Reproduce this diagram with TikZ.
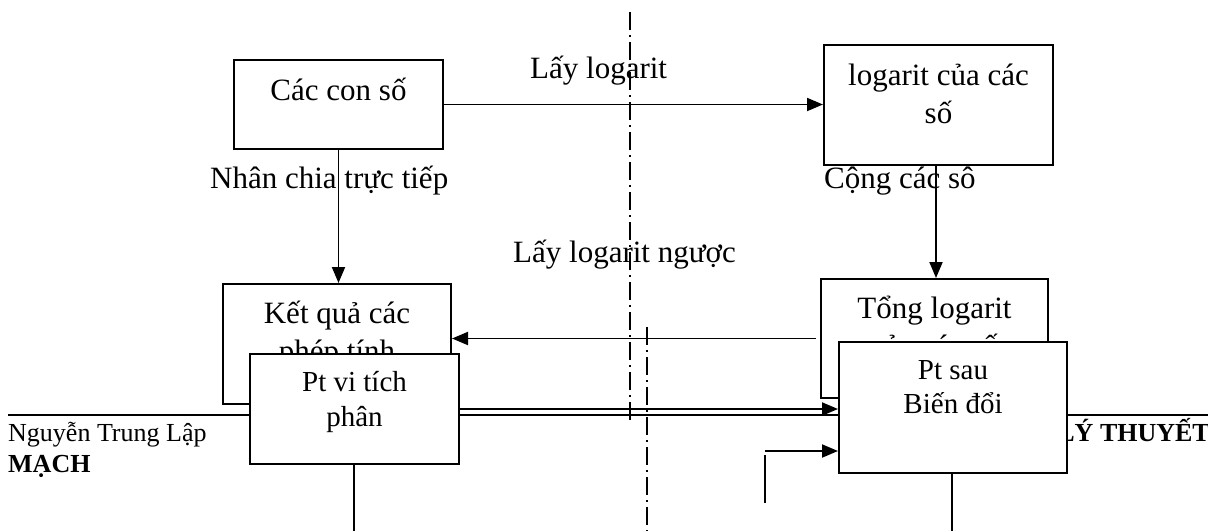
\documentclass[tikz,border=0pt]{standalone}
\usepackage{fontspec}
\setmainfont{Liberation Serif}
\usetikzlibrary{arrows.meta,calc}
\begin{document}
\begin{tikzpicture}[x=1pt,y=-1pt,
  box/.style={draw,fill=white,line width=2pt,inner sep=0pt},
  bigtxt/.style={inner sep=0pt,anchor=base,font=\fontsize{31}{38}\selectfont},
  midtxt/.style={inner sep=0pt,anchor=base,font=\fontsize{29}{34}\selectfont},
  lbl/.style={inner sep=0pt,anchor=base west,font=\fontsize{31}{38}\selectfont},
  foot/.style={inner sep=0pt,font=\fontsize{26}{30}\selectfont},
  conn/.style={line width=1.9pt},
  arr/.style={line width=1.9pt,-{Triangle[length=16pt,width=13pt]}},
  dashdot/.style={line width=1.4pt,dash pattern=on 18pt off 5pt on 1.5pt off 5.5pt}]
\useasboundingbox (0,0) rectangle (1208,531);
% page rule and footer
\coordinate (r1) at (8,415);
\coordinate (r2) at (1208,415);
\draw[line width=1.4pt] (r1) -- (r2);
\node[foot,anchor=base west] (f1) at (8,441) {Nguyễn Trung Lập};
\node[foot,anchor=base west] (f2) at (8,472) {\bfseries MẠCH};
\node[foot,anchor=base east] (f3) at (1210,441) {\bfseries LÝ THUYẾT};
% upper boxes
\node[box,minimum width=209pt,minimum height=89pt] (A) at (338.5,104.5) {};
\node[bigtxt] (At) at (338.5,100) {Các con số};
\node[box,minimum width=229pt,minimum height=120pt] (B) at (938.5,105) {};
\node[bigtxt] (Bt1) at (938.5,85) {logarit của các};
\node[bigtxt] (Bt2) at (938.5,123) {số};
% middle boxes
\node[box,minimum width=228pt,minimum height=120pt] (C) at (337,344) {};
\node[bigtxt] (Ct1) at (337,323) {Kết quả các};
\node[bigtxt] (Ct2) at (337,361) {phép tính};
\node[box,minimum width=227pt,minimum height=119pt] (E) at (934.5,338.5) {};
\node[bigtxt] (Et1) at (934.5,318) {Tổng logarit};
\node[bigtxt] (Et2) at (934.5,356) {của các số};
% lower boxes
\node[box,minimum width=209pt,minimum height=110pt] (D) at (354.5,409) {};
\node[midtxt] (Dt1) at (354.5,391) {Pt vi tích};
\node[midtxt] (Dt2) at (354.5,426) {phân};
\node[box,minimum width=228pt,minimum height=131pt] (F) at (953,407.5) {};
\node[midtxt] (Ft1) at (953,379) {Pt sau};
\node[midtxt] (Ft2) at (953,413) {Biến đổi};
% labels
\node[lbl] (L1) at (530,78) {Lấy logarit};
\node[lbl] (L2) at (210,188) {Nhân chia trực tiếp};
\node[lbl] (L3) at (824,188) {Cộng các sô};
\node[lbl] (L4) at (513,262) {Lấy logarit ngược};
% connectors
\draw[arr] (A.east) -- (A.east -| B.west);
\draw[arr] (A.south) -- (A.south |- C.north);
\draw[arr] ([xshift=-2.5pt]B.south) -- ([xshift=-2.5pt]B.south |- E.north);
\draw[arr] ([xshift=-4pt]E.west) -- (E.west -| C.east);
\draw[arr] (D.east) -- (D.east -| F.west);
\coordinate (k1) at (765,451);
\coordinate (k2) at (765,455);
\coordinate (k3) at (765,503);
\draw[arr] (k1) -- (k1 -| F.west);
\draw[conn] (k2) -- (k3);
\coordinate (bot) at (0,531);
\draw[conn] ([xshift=-0.5pt]D.south) -- ([xshift=-0.5pt]D.south |- bot);
\draw[conn] ([xshift=-1pt]F.south) -- ([xshift=-1pt]F.south |- bot);
% dash-dot axes
\coordinate (d1a) at (630,12);
\coordinate (d1b) at (630,424);
\coordinate (d2a) at (647,327);
\coordinate (d2b) at (647,531);
\draw[dashdot] (d1a) -- (d1b);
\draw[dashdot] (d2a) -- (d2b);
\end{tikzpicture}
\end{document}
